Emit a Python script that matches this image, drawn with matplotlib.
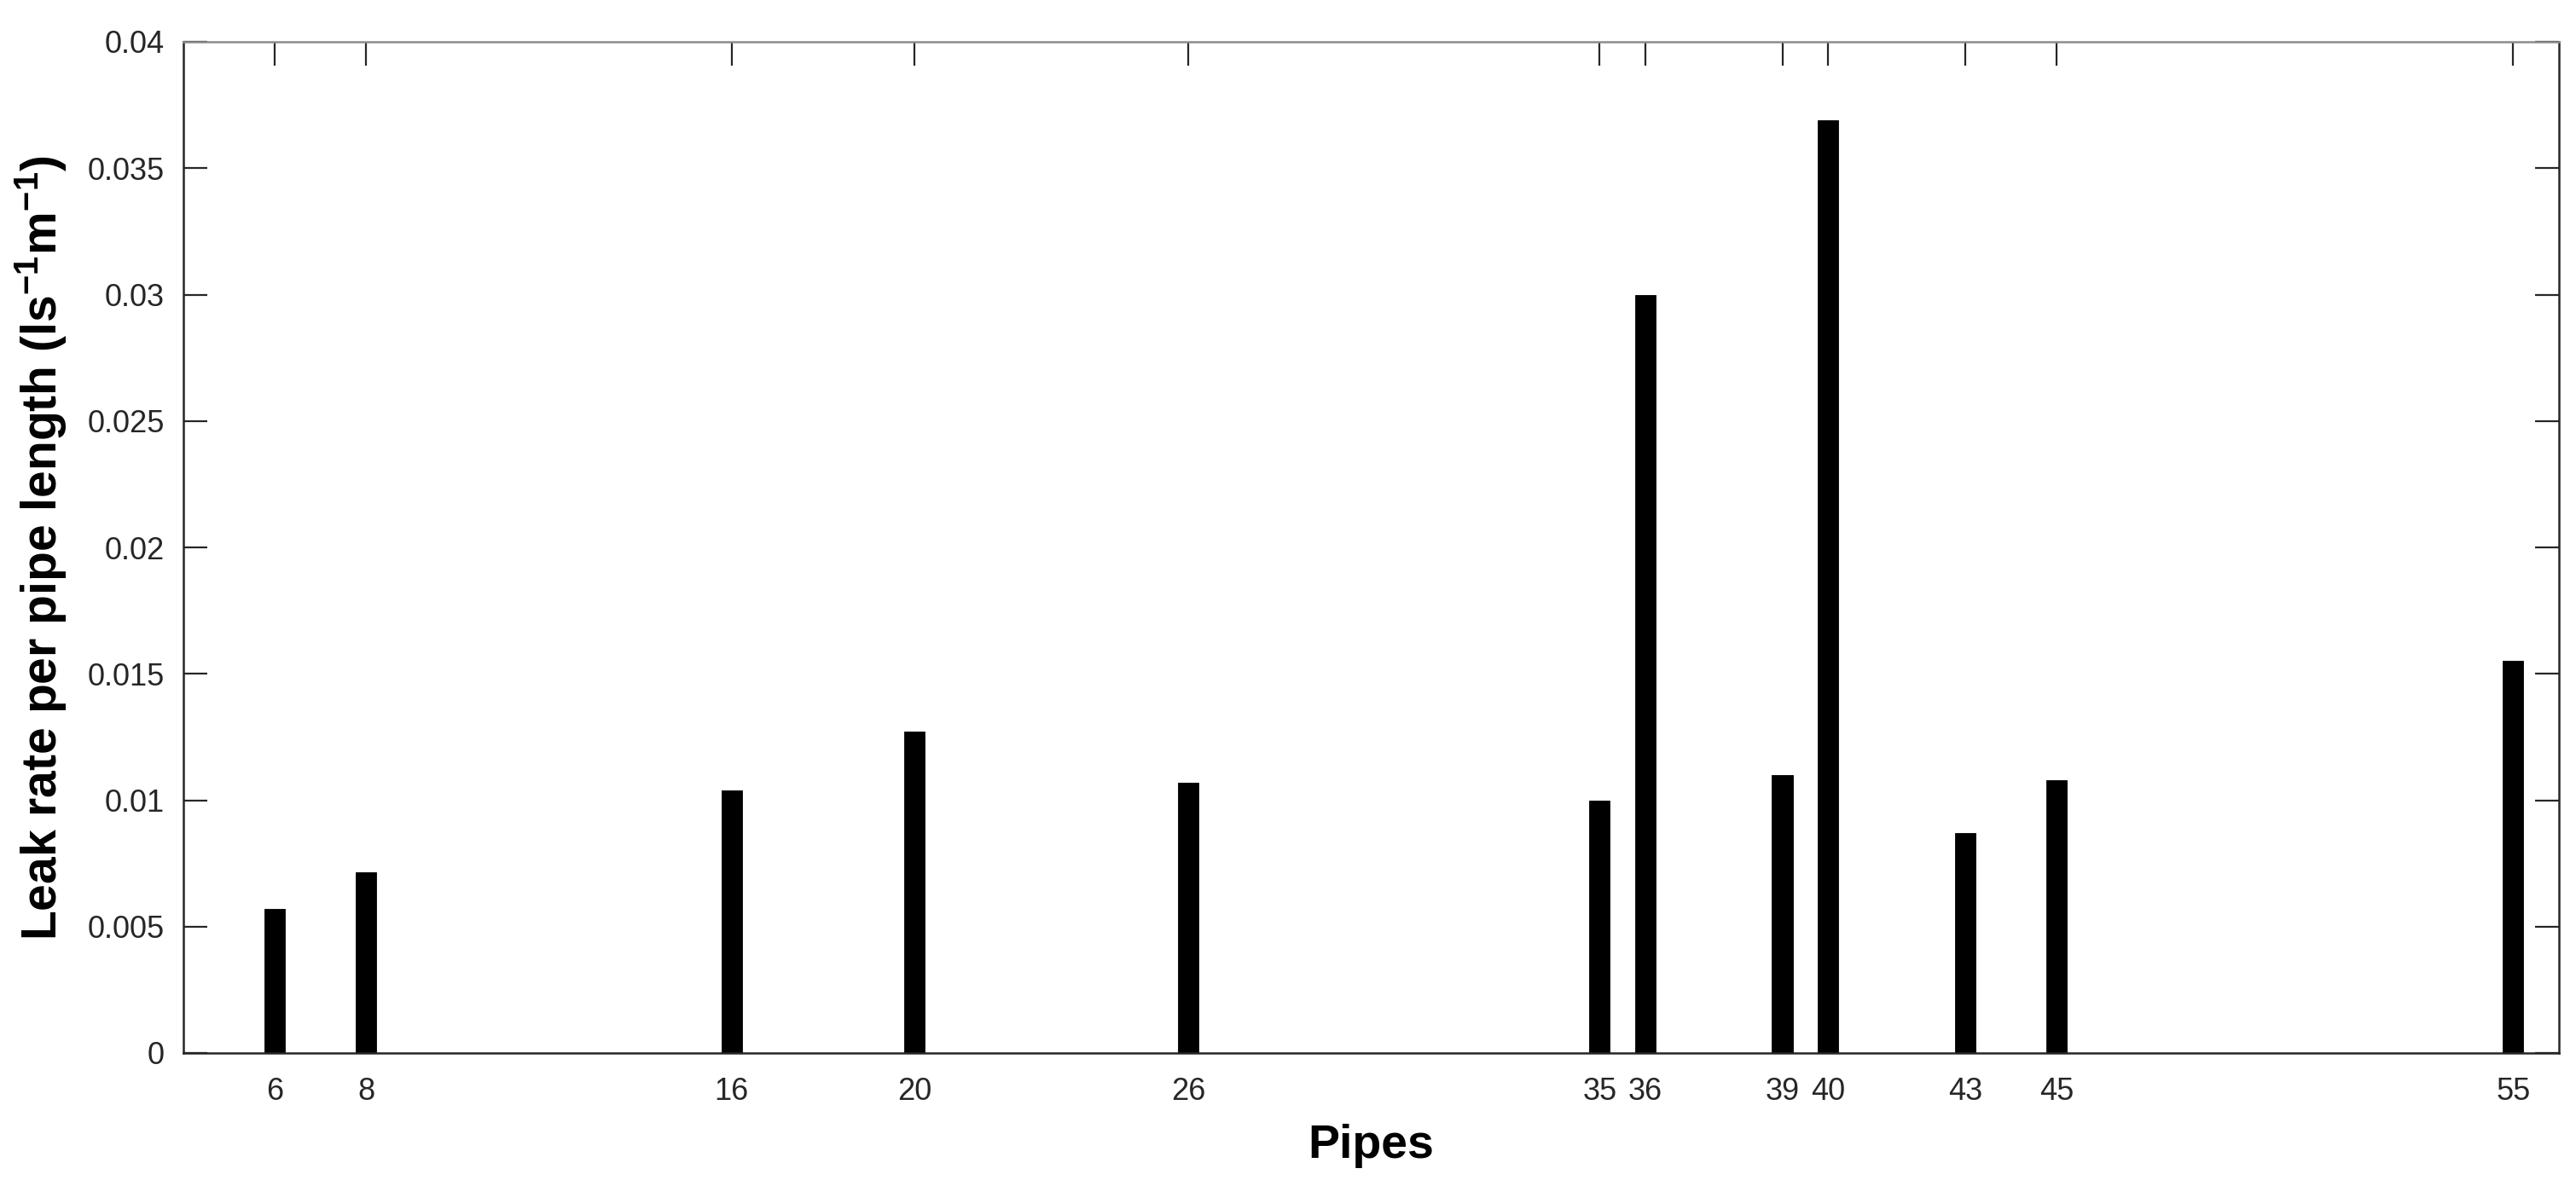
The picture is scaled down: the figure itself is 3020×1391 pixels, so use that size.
import matplotlib
matplotlib.use("Agg")
import matplotlib.pyplot as plt
from matplotlib.ticker import FixedLocator, FixedFormatter

pipes = [6, 8, 16, 20, 26, 35, 36, 39, 40, 43, 45, 55]
leak_rate = [0.0057, 0.00714, 0.0104, 0.0127, 0.0107, 0.0100,
             0.0300, 0.0110, 0.0369, 0.0087, 0.0108, 0.0155]
y_ticks = [0, 0.005, 0.01, 0.015, 0.02, 0.025, 0.03, 0.035, 0.04]
y_tick_labels = ['0', '0.005', '0.01', '0.015', '0.02', '0.025', '0.03', '0.035', '0.04']
x_tick_labels = [str(p) for p in pipes]

plt.rcParams['font.family'] = ['Liberation Sans', 'DejaVu Sans']
plt.rcParams['mathtext.fontset'] = 'custom'
plt.rcParams['mathtext.rm'] = 'Liberation Sans:bold'
plt.rcParams['mathtext.bf'] = 'Liberation Sans:bold'
plt.rcParams['mathtext.default'] = 'bf'

W, H, DPI = 3020, 1391, 200
fig = plt.figure(figsize=(W / DPI, H / DPI), dpi=DPI)
fig.patch.set_facecolor('white')

L, R, T, B = 215, 3000, 49, 1235
ax = fig.add_axes([L / W, 1 - B / H, (R - L) / W, (B - T) / H])
ax.set_axisbelow(True)

ax.bar(pipes, leak_rate, width=0.45, color='black', edgecolor='black',
       linewidth=0.3, zorder=2)

ax.set_xlim(4, 56)
ax.set_ylim(0, 0.04)
ax.xaxis.set_major_locator(FixedLocator(pipes))
ax.xaxis.set_major_formatter(FixedFormatter(x_tick_labels))
ax.yaxis.set_major_locator(FixedLocator(y_ticks))
ax.yaxis.set_major_formatter(FixedFormatter(y_tick_labels))

axc = '#262626'
for side in ['left', 'bottom', 'right']:
    ax.spines[side].set_color(axc)
    ax.spines[side].set_linewidth(0.9)
ax.spines['top'].set_color('#8c8c8c')
ax.spines['top'].set_linewidth(0.9)

ax.tick_params(axis='both', direction='in', length=10, width=0.8, color=axc,
               labelsize=13, labelcolor=axc, top=True, right=True)
ax.tick_params(axis='x', pad=10)
ax.tick_params(axis='y', pad=8)

fig.text(48 / W, 1 - 643 / H,
         'Leak rate per pipe length (ls$^{-1}$m$^{-1}$)',
         rotation=90, ha='center', va='center', fontsize=20.5,
         fontweight='bold', color='black')
fig.text((L + R) / 2 / W, 1 - 1358 / H, 'Pipes', ha='center', va='baseline',
         fontsize=20, fontweight='bold', color='black')

fig.savefig('out.png', dpi=DPI, facecolor='white')
